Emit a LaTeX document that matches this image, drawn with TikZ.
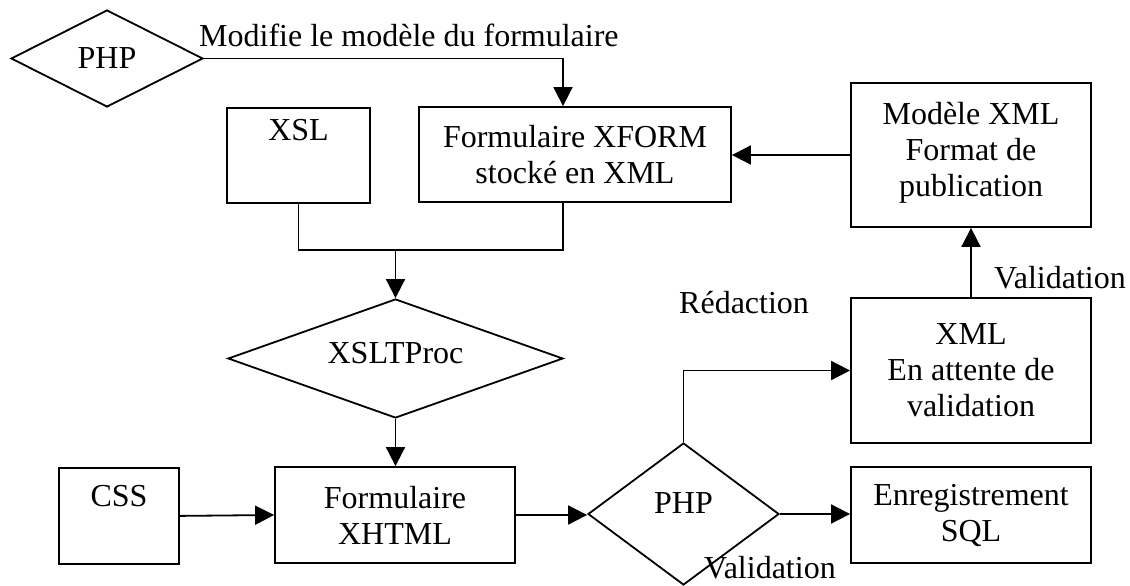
\documentclass[tikz,border=0pt]{standalone}
\usepackage{fontspec}
\setmainfont{Liberation Serif}
\usetikzlibrary{arrows.meta,shapes.geometric}
\begin{document}
\begin{tikzpicture}[x=1pt,y=-1pt,
  font=\fontsize{32}{36}\selectfont,
  box/.style={draw, rectangle, inner sep=0pt, align=center, line width=1.8pt},
  dia/.style={draw, diamond, inner sep=0pt, align=center, line width=1.8pt},
  arr/.style={-{Triangle[length=19pt,width=19pt]}, line width=1.8pt},
  con/.style={line width=1.8pt},
  lbl/.style={inner sep=0pt, anchor=base west}]
\useasboundingbox (0,0) rectangle (1130,586);
% nodes
\node[dia, minimum width=192pt, minimum height=97pt, shape aspect=2] (php1) at (107,58.5) {PHP};
\node[lbl] (lmod) at (199,47) {Modifie le modèle du formulaire};
\node[box, minimum width=143pt, text height=33pt, text depth=62pt, anchor=north] (xsl) at (298.5,107) {XSL};
\node[box, minimum width=312pt, minimum height=95pt] (xform) at (575,154.5) {Formulaire XFORM\\stocké en XML};
\node[box, minimum width=240pt, minimum height=144pt, text depth=12pt] (modele) at (971,155) {Modèle XML\\Format de\\publication};
\node[dia, minimum width=335pt, minimum height=119pt, shape aspect=2.8, text depth=12pt] (xslt) at (395.5,358.5) {XSLTProc};
\node[box, minimum width=120pt, text height=39pt, text depth=57pt, anchor=north] (css) at (119,467) {CSS};
\node[box, minimum width=240pt, minimum height=96pt] (xhtml) at (395,515) {Formulaire\\XHTML};
\node[dia, minimum width=191pt, minimum height=142pt, shape aspect=1.3, text depth=22pt] (php2) at (683.5,514) {PHP};
\node[box, minimum width=240pt, minimum height=96pt] (enreg) at (971,515) {Enregistrement\\SQL};
\node[box, minimum width=240pt, minimum height=145pt] (xml) at (971,370.5) {XML\\En attente de\\validation};
\node[lbl] (v1) at (994,288) {Validation};
\node[lbl] (red) at (679,313) {Rédaction};
\node[lbl] (v2) at (704,578) {Validation};
% coordinates
\coordinate (c1) at (563,58.5);
\coordinate (jr) at (563,250);
\coordinate (j) at (395.5,250);
% connectors
\draw[arr] (php1.east) -- (c1) -- (c1 |- xform.north);
\draw[arr] (modele.west) -- (modele.west -| xform.east);
\draw[con] (xsl.south) |- (jr) -- (jr |- xform.south);
\draw[arr] (j) -- (xslt.north);
\draw[arr] (xslt.south) -- (xslt.south |- xhtml.north);
\draw[arr] (css.east) -- (xhtml.west);
\draw[arr] (xhtml.east) -- (xhtml.east -| php2.west);
\draw[arr] (php2.east) -- (php2.east -| enreg.west);
\draw[arr] (php2.north) |- (xml.west);
\draw[arr] (xml.north) -- (modele.south);
\end{tikzpicture}
\end{document}
